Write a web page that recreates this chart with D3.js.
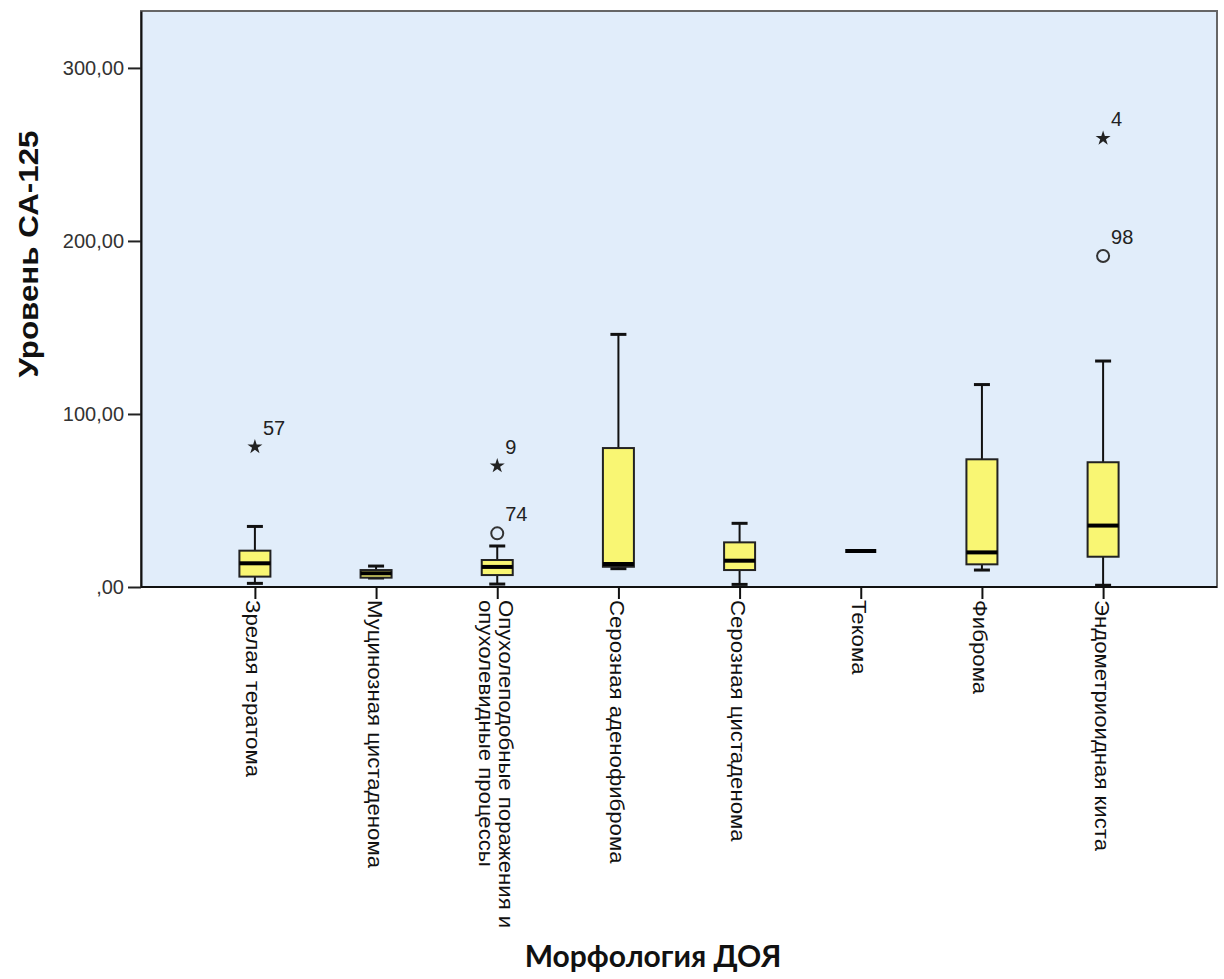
<!DOCTYPE html>
<html>
<head>
<meta charset="utf-8">
<script src="https://cdn.jsdelivr.net/npm/d3@7"></script>
<style>
  html, body { margin: 0; padding: 0; background: #ffffff; }
  svg { display: block; }
</style>
</head>
<body>
<svg id="chart" width="1224" height="979"></svg>
<script>
// Tumour morphology groups
const categories = [
  "Зрелая тератома",
  "Муцинозная цистаденома",
  "Опухолеподобные поражения и опухолевидные процессы",
  "Серозная аденофиброма",
  "Серозная цистаденома",
  "Текома",
  "Фиброма",
  "Эндометриоидная киста"
];
// Axis label lines for each group
const tickLabelLines = [
  ["Зрелая тератома"],
  ["Муцинозная цистаденома"],
  ["Опухолеподобные поражения и", "опухолевидные процессы"],
  ["Серозная аденофиброма"],
  ["Серозная цистаденома"],
  ["Текома"],
  ["Фиброма"],
  ["Эндометриоидная киста"]
];

// Five-number summaries of CA-125 per group
const whiskerLow  = [2.1, 5.2, 1.7, 10.6, 1.5, 20.8, 9.8, 1.0];
const quartile1   = [6.0, 5.4, 6.9, 11.7, 9.8, 20.8, 13.1, 17.5];
const medians     = [13.7, 7.9, 11.6, 13.3, 15.2, 20.8, 20.0, 35.5];
const quartile3   = [21.0, 9.8, 15.6, 80.3, 25.8, 20.8, 73.8, 72.1];
const whiskerHigh = [35.0, 12.1, 23.7, 146.0, 36.8, 20.8, 117.0, 130.6];

// Outlying cases: group index, value, marker kind, case number
const outlierGroup = [0, 2, 2, 7, 7];
const outlierValue = [81.0, 70.0, 31.0, 259.3, 191.3];
const outlierKind  = ["extreme", "extreme", "outlier", "extreme", "outlier"];
const outlierCase  = ["57", "9", "74", "4", "98"];

const yTicks = [0, 100, 200, 300];

const svg = d3.select("#chart");
const plot = { left: 141, top: 11, right: 1217, bottom: 587 };
const baseFont = "'Liberation Sans', Arial, sans-serif";

const x = d3.scalePoint()
  .domain(categories)
  .range([plot.left, plot.right])
  .padding(0.94);

const y = d3.scaleLinear()
  .domain([0, 332.9])
  .range([plot.bottom, plot.top]);

// Plot background
svg.append("rect")
  .attr("x", plot.left).attr("y", plot.top)
  .attr("width", plot.right - plot.left)
  .attr("height", plot.bottom - plot.top)
  .attr("fill", "#e1edfa")
  .attr("stroke", "#666")
  .attr("stroke-width", 2);

// Y axis
const yAxis = d3.axisLeft(y)
  .tickValues(yTicks)
  .tickSize(13)
  .tickSizeOuter(0)
  .tickPadding(4)
  .tickFormat(d => (d === 0 ? "" : d) + ",00");

const gy = svg.append("g")
  .attr("transform", `translate(${plot.left},0)`)
  .call(yAxis);
gy.select(".domain").attr("stroke", "#111").attr("stroke-width", 2);
gy.selectAll(".tick line").attr("stroke", "#222").attr("stroke-width", 2);
gy.selectAll(".tick text")
  .attr("font-family", baseFont)
  .attr("font-size", 20)
  .attr("fill", "#333");

// X axis
const xAxis = d3.axisBottom(x).tickSize(12).tickSizeOuter(0).tickFormat("");
const gx = svg.append("g")
  .attr("transform", `translate(0,${plot.bottom})`)
  .call(xAxis);
gx.select(".domain").attr("stroke", "#111").attr("stroke-width", 2)
  .attr("d", `M${plot.left},0H${plot.right}`);
gx.selectAll(".tick line").attr("stroke", "#111").attr("stroke-width", 2);

// Rotated category labels (slightly elongated along the reading direction)
const lineStep = 20;
gx.selectAll(".tick").each(function(d, i) {
  const lines = tickLabelLines[i];
  const n = lines.length;
  const t = d3.select(this).append("text")
    .attr("transform", "translate(0,13) rotate(90) scale(1.11,1)")
    .attr("font-family", baseFont)
    .attr("font-size", 20)
    .attr("fill", "#111")
    .attr("text-anchor", "start");
  lines.forEach((ln, k) => {
    t.append("tspan")
      .attr("x", 0)
      .attr("y", 9 + (k - (n - 1) / 2) * lineStep)
      .text(ln);
  });
});

// Boxes
const boxW = 31, capW = 16;
const groups = svg.append("g").selectAll("g.box")
  .data(categories)
  .join("g")
  .attr("class", "box")
  .attr("transform", d => `translate(${x(d)},0)`);

groups.each(function(d, i) {
  const g = d3.select(this);
  const lo = whiskerLow[i], q1 = quartile1[i], md = medians[i], q3 = quartile3[i], hi = whiskerHigh[i];
  const flat = q1 === q3;
  if (!flat) {
    // whisker stems
    g.append("line").attr("x1", 0).attr("x2", 0)
      .attr("y1", y(q3)).attr("y2", y(hi))
      .attr("stroke", "#111").attr("stroke-width", 2);
    g.append("line").attr("x1", 0).attr("x2", 0)
      .attr("y1", y(q1)).attr("y2", y(lo))
      .attr("stroke", "#111").attr("stroke-width", 2);
    // caps
    [lo, hi].forEach(v => {
      g.append("line").attr("x1", -capW / 2).attr("x2", capW / 2)
        .attr("y1", y(v)).attr("y2", y(v))
        .attr("stroke", "#111").attr("stroke-width", 3);
    });
    // box
    g.append("rect")
      .attr("x", -boxW / 2).attr("width", boxW)
      .attr("y", y(q3)).attr("height", y(q1) - y(q3))
      .attr("fill", "#f9f673")
      .attr("stroke", "#222").attr("stroke-width", 2);
  }
  // median
  g.append("line").attr("x1", -boxW / 2).attr("x2", boxW / 2)
    .attr("y1", y(md)).attr("y2", y(md))
    .attr("stroke", "#000").attr("stroke-width", 4);
});

// Outliers and extremes
const starPath = d3.symbol().type(d3.symbolStar).size(70)();
outlierValue.forEach((v, k) => {
  const cx = x(categories[outlierGroup[k]]);
  const cy = y(v);
  if (outlierKind[k] === "extreme") {
    svg.append("path")
      .attr("d", starPath)
      .attr("transform", `translate(${cx},${cy})`)
      .attr("fill", "#222");
  } else {
    svg.append("circle")
      .attr("cx", cx).attr("cy", cy).attr("r", 6)
      .attr("fill", "none").attr("stroke", "#333").attr("stroke-width", 2);
  }
  svg.append("text")
    .attr("x", cx + 8).attr("y", cy - 12)
    .attr("font-family", baseFont)
    .attr("font-size", 20)
    .attr("fill", "#222")
    .text(outlierCase[k]);
});

// Axis titles
svg.append("text")
  .attr("transform", "translate(38,254) rotate(-90) scale(1.12,1)")
  .attr("text-anchor", "middle")
  .attr("font-family", baseFont)
  .attr("font-weight", "bold")
  .attr("font-size", 28)
  .attr("fill", "#111")
  .text("Уровень СА-125");

svg.append("text")
  .attr("x", 653).attr("y", 967)
  .attr("text-anchor", "middle")
  .attr("font-family", "Lato, 'Open Sans', sans-serif")
  .attr("font-weight", "bold")
  .attr("font-size", 30)
  .attr("fill", "#111")
  .text("Морфология ДОЯ");
</script>
</body>
</html>
